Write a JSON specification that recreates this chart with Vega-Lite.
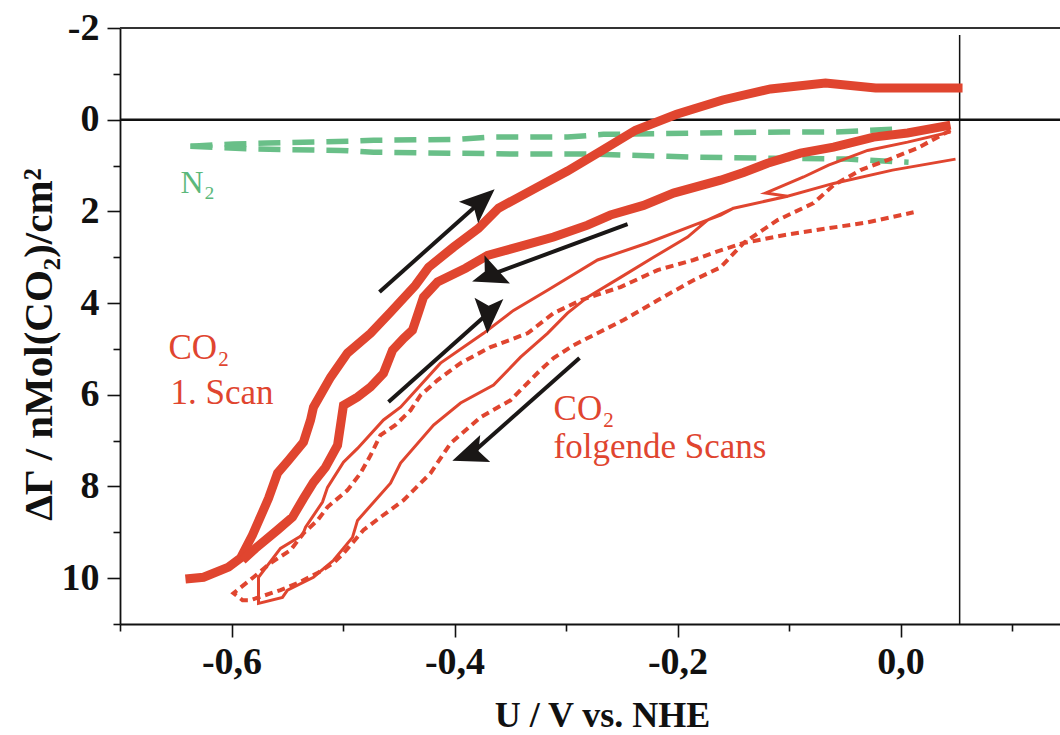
{
  "$schema": "https://vega.github.io/schema/vega-lite/v6.json",
  "width": 940,
  "height": 596,
  "autosize": {"type": "none"},
  "padding": {"left": 120, "top": 28, "right": 0, "bottom": 111},
  "background": "white",
  "config": {
    "view": {"stroke": null},
    "font": "Liberation Serif",
    "axis": {
      "grid": false,
      "domainColor": "#111",
      "domainWidth": 1.8,
      "tickColor": "#111",
      "tickWidth": 1.6,
      "labelFont": "Liberation Serif",
      "labelFontWeight": "bold",
      "labelFontSize": 38,
      "labelColor": "#111",
      "titleFont": "Liberation Serif",
      "titleFontWeight": "bold",
      "titleColor": "#111"
    }
  },
  "datasets": {
    "curves": [
      {"k":"n2","s":"na","x":-0.6368,"y":0.58},{"k":"n2","s":"na","x":-0.5982,"y":0.53},{"k":"n2","s":"na","x":-0.5677,"y":0.51},{"k":"n2","s":"na","x":-0.4933,"y":0.47},{"k":"n2","s":"na","x":-0.4726,"y":0.45},{"k":"n2","s":"na","x":-0.3973,"y":0.43},{"k":"n2","s":"na","x":-0.3677,"y":0.38},{"k":"n2","s":"na","x":-0.2987,"y":0.38},{"k":"n2","s":"na","x":-0.2664,"y":0.32},{"k":"n2","s":"na","x":-0.1794,"y":0.29},{"k":"n2","s":"na","x":-0.1049,"y":0.27},{"k":"n2","s":"na","x":-0.0601,"y":0.27},{"k":"n2","s":"na","x":-0.0072,"y":0.21},
      {"k":"n2","s":"nb","x":-0.6368,"y":0.58},{"k":"n2","s":"nb","x":-0.5785,"y":0.64},{"k":"n2","s":"nb","x":-0.5022,"y":0.67},{"k":"n2","s":"nb","x":-0.4726,"y":0.71},{"k":"n2","s":"nb","x":-0.4036,"y":0.73},{"k":"n2","s":"nb","x":-0.3408,"y":0.75},{"k":"n2","s":"nb","x":-0.2753,"y":0.75},{"k":"n2","s":"nb","x":-0.2090,"y":0.80},{"k":"n2","s":"nb","x":-0.1794,"y":0.82},{"k":"n2","s":"nb","x":-0.1139,"y":0.84},{"k":"n2","s":"nb","x":-0.0475,"y":0.86},{"k":"n2","s":"nb","x":0.0072,"y":0.93},
      {"k":"thick","s":"s1a","x":-0.6413,"y":10.02},{"k":"thick","s":"s1a","x":-0.6251,"y":9.98},{"k":"thick","s":"s1a","x":-0.6027,"y":9.76},{"k":"thick","s":"s1a","x":-0.5919,"y":9.56},{"k":"thick","s":"s1a","x":-0.5812,"y":9.06},{"k":"thick","s":"s1a","x":-0.5668,"y":8.26},{"k":"thick","s":"s1a","x":-0.5587,"y":7.71},{"k":"thick","s":"s1a","x":-0.5489,"y":7.43},{"k":"thick","s":"s1a","x":-0.5354,"y":7.03},{"k":"thick","s":"s1a","x":-0.5291,"y":6.55},{"k":"thick","s":"s1a","x":-0.5265,"y":6.27},{"k":"thick","s":"s1a","x":-0.5112,"y":5.62},{"k":"thick","s":"s1a","x":-0.4960,"y":5.09},{"k":"thick","s":"s1a","x":-0.4753,"y":4.66},{"k":"thick","s":"s1a","x":-0.4574,"y":4.20},{"k":"thick","s":"s1a","x":-0.4350,"y":3.61},{"k":"thick","s":"s1a","x":-0.4233,"y":3.22},{"k":"thick","s":"s1a","x":-0.4009,"y":2.78},{"k":"thick","s":"s1a","x":-0.3785,"y":2.37},{"k":"thick","s":"s1a","x":-0.3605,"y":1.93},{"k":"thick","s":"s1a","x":-0.3256,"y":1.47},{"k":"thick","s":"s1a","x":-0.2987,"y":1.12},{"k":"thick","s":"s1a","x":-0.2691,"y":0.69},{"k":"thick","s":"s1a","x":-0.2377,"y":0.23},{"k":"thick","s":"s1a","x":-0.2009,"y":-0.12},{"k":"thick","s":"s1a","x":-0.1596,"y":-0.43},{"k":"thick","s":"s1a","x":-0.1166,"y":-0.67},{"k":"thick","s":"s1a","x":-0.0673,"y":-0.80},{"k":"thick","s":"s1a","x":-0.0224,"y":-0.69},{"k":"thick","s":"s1a","x":0.0556,"y":-0.69},
      {"k":"thick","s":"s1b","x":0.0448,"y":0.12},{"k":"thick","s":"s1b","x":0.0063,"y":0.29},{"k":"thick","s":"s1b","x":-0.0242,"y":0.38},{"k":"thick","s":"s1b","x":-0.0601,"y":0.60},{"k":"thick","s":"s1b","x":-0.0897,"y":0.73},{"k":"thick","s":"s1b","x":-0.1193,"y":0.95},{"k":"thick","s":"s1b","x":-0.1408,"y":1.15},{"k":"thick","s":"s1b","x":-0.1614,"y":1.32},{"k":"thick","s":"s1b","x":-0.2036,"y":1.60},{"k":"thick","s":"s1b","x":-0.2305,"y":1.87},{"k":"thick","s":"s1b","x":-0.2601,"y":2.08},{"k":"thick","s":"s1b","x":-0.2807,"y":2.30},{"k":"thick","s":"s1b","x":-0.3112,"y":2.56},{"k":"thick","s":"s1b","x":-0.3435,"y":2.78},{"k":"thick","s":"s1b","x":-0.3704,"y":2.96},{"k":"thick","s":"s1b","x":-0.3901,"y":3.24},{"k":"thick","s":"s1b","x":-0.4152,"y":3.54},{"k":"thick","s":"s1b","x":-0.4278,"y":3.87},{"k":"thick","s":"s1b","x":-0.4323,"y":4.20},{"k":"thick","s":"s1b","x":-0.4377,"y":4.59},{"k":"thick","s":"s1b","x":-0.4457,"y":4.77},{"k":"thick","s":"s1b","x":-0.4556,"y":5.03},{"k":"thick","s":"s1b","x":-0.4637,"y":5.53},{"k":"thick","s":"s1b","x":-0.4753,"y":5.83},{"k":"thick","s":"s1b","x":-0.4870,"y":6.05},{"k":"thick","s":"s1b","x":-0.4996,"y":6.23},{"k":"thick","s":"s1b","x":-0.5022,"y":6.66},{"k":"thick","s":"s1b","x":-0.5049,"y":7.10},{"k":"thick","s":"s1b","x":-0.5157,"y":7.58},{"k":"thick","s":"s1b","x":-0.5265,"y":7.91},{"k":"thick","s":"s1b","x":-0.5354,"y":8.26},{"k":"thick","s":"s1b","x":-0.5453,"y":8.67},{"k":"thick","s":"s1b","x":-0.5587,"y":8.95},{"k":"thick","s":"s1b","x":-0.5785,"y":9.35},{"k":"thick","s":"s1b","x":-0.5901,"y":9.61},
      {"k":"thin","s":"ta","x":-0.1013,"y":1.67},{"k":"thin","s":"ta","x":-0.1498,"y":1.93},{"k":"thin","s":"ta","x":-0.1731,"y":2.19},{"k":"thin","s":"ta","x":-0.1910,"y":2.56},{"k":"thin","s":"ta","x":-0.2215,"y":3.00},{"k":"thin","s":"ta","x":-0.2511,"y":3.44},{"k":"thin","s":"ta","x":-0.2807,"y":3.87},{"k":"thin","s":"ta","x":-0.2987,"y":4.22},{"k":"thin","s":"ta","x":-0.3166,"y":4.66},{"k":"thin","s":"ta","x":-0.3408,"y":5.18},{"k":"thin","s":"ta","x":-0.3650,"y":5.79},{"k":"thin","s":"ta","x":-0.3946,"y":6.18},{"k":"thin","s":"ta","x":-0.4188,"y":6.66},{"k":"thin","s":"ta","x":-0.4484,"y":7.49},{"k":"thin","s":"ta","x":-0.4574,"y":7.93},{"k":"thin","s":"ta","x":-0.4870,"y":8.74},{"k":"thin","s":"ta","x":-0.4915,"y":9.11},{"k":"thin","s":"ta","x":-0.5085,"y":9.61},{"k":"thin","s":"ta","x":-0.5265,"y":9.98},{"k":"thin","s":"ta","x":-0.5498,"y":10.26},{"k":"thin","s":"ta","x":-0.5543,"y":10.42},{"k":"thin","s":"ta","x":-0.5758,"y":10.55},{"k":"thin","s":"ta","x":-0.5758,"y":9.98},{"k":"thin","s":"ta","x":-0.5561,"y":9.35},{"k":"thin","s":"ta","x":-0.5363,"y":9.06},{"k":"thin","s":"ta","x":-0.5336,"y":8.89},{"k":"thin","s":"ta","x":-0.5184,"y":8.34},{"k":"thin","s":"ta","x":-0.5139,"y":8.02},{"k":"thin","s":"ta","x":-0.4996,"y":7.47},{"k":"thin","s":"ta","x":-0.4870,"y":7.17},{"k":"thin","s":"ta","x":-0.4637,"y":6.55},{"k":"thin","s":"ta","x":-0.4484,"y":6.27},{"k":"thin","s":"ta","x":-0.4126,"y":5.31},{"k":"thin","s":"ta","x":-0.3740,"y":4.66},{"k":"thin","s":"ta","x":-0.3471,"y":4.16},{"k":"thin","s":"ta","x":-0.3166,"y":3.72},{"k":"thin","s":"ta","x":-0.2717,"y":3.06},{"k":"thin","s":"ta","x":-0.2269,"y":2.69},{"k":"thin","s":"ta","x":-0.1812,"y":2.26},{"k":"thin","s":"ta","x":-0.1614,"y":2.08},{"k":"thin","s":"ta","x":-0.1498,"y":1.93},
      {"k":"thin","s":"tb","x":0.0448,"y":0.27},{"k":"thin","s":"tb","x":0.0063,"y":0.49},{"k":"thin","s":"tb","x":-0.0296,"y":0.67},{"k":"thin","s":"tb","x":-0.0646,"y":0.99},{"k":"thin","s":"tb","x":-0.0870,"y":1.25},{"k":"thin","s":"tb","x":-0.1211,"y":1.60},{"k":"thin","s":"tb","x":-0.1013,"y":1.67},{"k":"thin","s":"tb","x":-0.0601,"y":1.39},{"k":"thin","s":"tb","x":-0.0072,"y":1.10},{"k":"thin","s":"tb","x":0.0493,"y":0.86},
      {"k":"dot","s":"d","x":0.0448,"y":0.23},{"k":"dot","s":"d","x":0.0152,"y":0.62},{"k":"dot","s":"d","x":-0.0117,"y":0.88},{"k":"dot","s":"d","x":-0.0359,"y":1.10},{"k":"dot","s":"d","x":-0.0601,"y":1.43},{"k":"dot","s":"d","x":-0.0780,"y":1.82},{"k":"dot","s":"d","x":-0.1103,"y":2.19},{"k":"dot","s":"d","x":-0.1408,"y":2.69},{"k":"dot","s":"d","x":-0.1614,"y":3.22},{"k":"dot","s":"d","x":-0.1857,"y":3.50},{"k":"dot","s":"d","x":-0.2179,"y":3.94},{"k":"dot","s":"d","x":-0.2484,"y":4.37},{"k":"dot","s":"d","x":-0.2933,"y":4.92},{"k":"dot","s":"d","x":-0.3112,"y":5.20},{"k":"dot","s":"d","x":-0.3229,"y":5.46},{"k":"dot","s":"d","x":-0.3498,"y":6.12},{"k":"dot","s":"d","x":-0.3767,"y":6.49},{"k":"dot","s":"d","x":-0.4036,"y":7.06},{"k":"dot","s":"d","x":-0.4215,"y":7.71},{"k":"dot","s":"d","x":-0.4457,"y":8.30},{"k":"dot","s":"d","x":-0.4664,"y":8.67},{"k":"dot","s":"d","x":-0.4816,"y":8.95},{"k":"dot","s":"d","x":-0.4996,"y":9.46},{"k":"dot","s":"d","x":-0.5085,"y":9.67},{"k":"dot","s":"d","x":-0.5229,"y":9.89},{"k":"dot","s":"d","x":-0.5408,"y":10.11},{"k":"dot","s":"d","x":-0.5561,"y":10.26},{"k":"dot","s":"d","x":-0.5830,"y":10.48},{"k":"dot","s":"d","x":-0.5901,"y":10.48},{"k":"dot","s":"d","x":-0.5982,"y":10.33},{"k":"dot","s":"d","x":-0.5803,"y":9.98},{"k":"dot","s":"d","x":-0.5650,"y":9.67},{"k":"dot","s":"d","x":-0.5471,"y":9.39},{"k":"dot","s":"d","x":-0.5354,"y":9.02},{"k":"dot","s":"d","x":-0.5229,"y":8.74},{"k":"dot","s":"d","x":-0.5139,"y":8.45},{"k":"dot","s":"d","x":-0.4960,"y":8.08},{"k":"dot","s":"d","x":-0.4843,"y":7.71},{"k":"dot","s":"d","x":-0.4753,"y":7.32},{"k":"dot","s":"d","x":-0.4664,"y":6.88},{"k":"dot","s":"d","x":-0.4529,"y":6.66},{"k":"dot","s":"d","x":-0.4395,"y":6.34},{"k":"dot","s":"d","x":-0.4305,"y":6.01},{"k":"dot","s":"d","x":-0.4152,"y":5.68},{"k":"dot","s":"d","x":-0.3946,"y":5.31},{"k":"dot","s":"d","x":-0.3677,"y":4.96},{"k":"dot","s":"d","x":-0.3345,"y":4.66},{"k":"dot","s":"d","x":-0.3112,"y":4.22},{"k":"dot","s":"d","x":-0.2870,"y":3.94},{"k":"dot","s":"d","x":-0.2511,"y":3.65},{"k":"dot","s":"d","x":-0.2179,"y":3.28},{"k":"dot","s":"d","x":-0.1857,"y":3.06},{"k":"dot","s":"d","x":-0.1614,"y":2.85},{"k":"dot","s":"d","x":-0.1408,"y":2.69},{"k":"dot","s":"d","x":-0.1049,"y":2.52},{"k":"dot","s":"d","x":-0.0655,"y":2.37},{"k":"dot","s":"d","x":-0.0296,"y":2.24},{"k":"dot","s":"d","x":0.0117,"y":2.02}
    ],
    "arrows": [
      {"id":"a1","x":-0.4673,"y":3.76,"x2":-0.3778,"y2":1.815},
      {"id":"a2","x":-0.2448,"y":2.28,"x2":-0.3670,"y2":3.378},
      {"id":"a3","x":-0.4592,"y":6.16,"x2":-0.3697,"y2":4.214},
      {"id":"a4","x":-0.2879,"y":5.20,"x2":-0.3846,"y2":7.282}
    ],
    "labels": [
      {"t":"N₂","x":-0.6457,"y":1.60,"c":"g"},
      {"t":"CO₂","x":-0.6565,"y":5.22,"c":"r"},
      {"t":"1. Scan","x":-0.6547,"y":6.21,"c":"r"},
      {"t":"CO₂","x":-0.3112,"y":6.55,"c":"r"},
      {"t":"folgende Scans","x":-0.3112,"y":7.38,"c":"r"}
    ]
  },
  "layer": [
    {
      "data": {"values": [{"y": 0}]},
      "mark": {"type": "rule", "color": "#111", "strokeWidth": 2.5},
      "encoding": {
        "y": {
          "field": "y", "type": "quantitative",
          "scale": {"domain": [-2, 11], "reverse": true, "nice": false, "zero": false},
          "axis": {
            "values": [-2,-1,0,1,2,3,4,5,6,7,8,9,10,11],
            "labelExpr": "datum.value % 2 == 0 ? (datum.value < 0 ? '-' : '') + abs(datum.value) : ''",
            "tickSize": {"condition": {"test": "datum.value % 2 == 0", "value": 13}, "value": 7},
            "labelPadding": 8,
            "title": "ΔΓ / nMol(CO₂)/cm²",
            "titleFontSize": 41,
            "titleAngle": 270,
            "titleX": -69,
            "titleY": 316,
            "titleAlign": "center",
            "titleBaseline": "alphabetic"
          }
        }
      }
    },
    {
      "data": {"values": [{"y": -2}]},
      "mark": {"type": "rule", "color": "#333", "strokeWidth": 2},
      "encoding": {"y": {"field": "y", "type": "quantitative"}}
    },
    {
      "data": {"values": [{"x": 0.053, "y": -1.85, "y2": 11}]},
      "mark": {"type": "rule", "color": "#111", "strokeWidth": 1.5},
      "encoding": {
        "x": {
          "field": "x", "type": "quantitative",
          "scale": {"domain": [-0.7, 0.143], "nice": false, "zero": false},
          "axis": {
            "values": [-0.7,-0.6,-0.5,-0.4,-0.3,-0.2,-0.1,0,0.1],
            "labelExpr": "abs(round(datum.value*10)) % 2 == 0 ? (datum.value < -0.001 ? '-' : '') + replace(format(abs(datum.value), '.1f'), '.', ',') : ''",
            "tickSize": {"condition": {"test": "abs(round(datum.value*10)) % 2 == 0", "value": 13}, "value": 7},
            "labelPadding": 6,
            "title": "U / V vs. NHE",
            "titleFontSize": 36,
            "titleX": 482,
            "titleY": 102,
            "titleAlign": "center",
            "titleBaseline": "alphabetic"
          }
        },
        "y": {"field": "y", "type": "quantitative"},
        "y2": {"field": "y2"}
      }
    },
    {
      "data": {"name": "curves"},
      "transform": [{"filter": "datum.k == 'n2'"}],
      "mark": {"type": "line", "color": "#69bf88", "strokeWidth": 5.5, "strokeDash": [22, 12]},
      "encoding": {
        "x": {"field": "x", "type": "quantitative"},
        "y": {"field": "y", "type": "quantitative"},
        "detail": {"field": "s"},
        "order": {"value": null}
      }
    },
    {
      "data": {"name": "curves"},
      "transform": [{"filter": "datum.k == 'thick'"}],
      "mark": {"type": "line", "color": "#e0452f", "strokeWidth": 9},
      "encoding": {
        "x": {"field": "x", "type": "quantitative"},
        "y": {"field": "y", "type": "quantitative"},
        "detail": {"field": "s"},
        "order": {"value": null}
      }
    },
    {
      "data": {"name": "curves"},
      "transform": [{"filter": "datum.k == 'thin'"}],
      "mark": {"type": "line", "color": "#e0452f", "strokeWidth": 3},
      "encoding": {
        "x": {"field": "x", "type": "quantitative"},
        "y": {"field": "y", "type": "quantitative"},
        "detail": {"field": "s"},
        "order": {"value": null}
      }
    },
    {
      "data": {"name": "curves"},
      "transform": [{"filter": "datum.k == 'dot'"}],
      "mark": {"type": "line", "color": "#e0452f", "strokeWidth": 4, "strokeDash": [8, 5]},
      "encoding": {
        "x": {"field": "x", "type": "quantitative"},
        "y": {"field": "y", "type": "quantitative"},
        "detail": {"field": "s"},
        "order": {"value": null}
      }
    },
    {
      "data": {"name": "arrows"},
      "mark": {"type": "rule", "color": "#1a1716", "strokeWidth": 4},
      "encoding": {
        "x": {"field": "x", "type": "quantitative"},
        "y": {"field": "y", "type": "quantitative"},
        "x2": {"field": "x2"},
        "y2": {"field": "y2"}
      }
    },
    {
      "data": {"name": "arrows"},
      "mark": {"type": "point", "filled": true, "opacity": 1, "color": "#1a1716", "size": 1700, "shape": "M0,-1L0.7,0.7L0,0.35L-0.7,0.7Z"},
      "encoding": {
        "x": {"field": "x2", "type": "quantitative"},
        "y": {"field": "y2", "type": "quantitative"},
        "angle": {"field": "id", "type": "nominal", "scale": {"domain": ["a1","a2","a3","a4"], "range": [48.2, 249.7, 48.2, 228.5]}, "legend": null}
      }
    },
    {
      "data": {"name": "labels"},
      "transform": [{"filter": "datum.c == 'r'"}],
      "mark": {"type": "text", "align": "left", "baseline": "alphabetic", "font": "Liberation Serif", "fontSize": 35, "color": "#e0452f"},
      "encoding": {
        "x": {"field": "x", "type": "quantitative"},
        "y": {"field": "y", "type": "quantitative"},
        "text": {"field": "t"}
      }
    },
    {
      "data": {"name": "labels"},
      "transform": [{"filter": "datum.c == 'g'"}],
      "mark": {"type": "text", "align": "left", "baseline": "alphabetic", "font": "Liberation Serif", "fontSize": 32, "color": "#5cb87b"},
      "encoding": {
        "x": {"field": "x", "type": "quantitative"},
        "y": {"field": "y", "type": "quantitative"},
        "text": {"field": "t"}
      }
    }
  ]
}
